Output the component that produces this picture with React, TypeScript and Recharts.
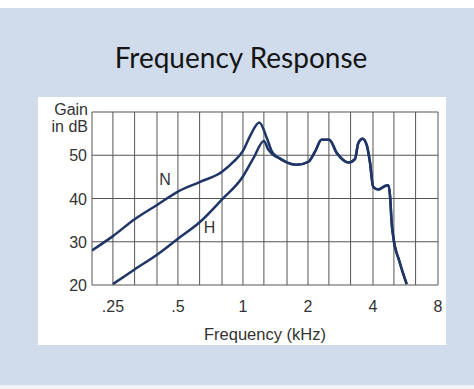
import { LineChart, Line, XAxis, YAxis, CartesianGrid, ReferenceDot } from "recharts";

// third-octave grid, labelled octaves
const freqGrid = [0.2, 0.25, 0.315, 0.4, 0.5, 0.63, 0.8, 1, 1.25, 1.6, 2, 2.5, 3.15, 4, 5, 6.3, 8];
const freqLabels: Record<string, string> = { "0.25": ".25", "0.5": ".5", "1": "1", "2": "2", "4": "4", "8": "8" };
const gainTicks = [20, 30, 40, 50, 60];

// N curve before it joins H
const nFreq = [0.2, 0.25, 0.315, 0.4, 0.5, 0.63, 0.8, 0.9, 1.0, 1.08, 1.19, 1.29, 1.36, 1.46];
const nGain = [28, 31.3, 35.2, 38.5, 41.6, 43.8, 46.2, 48.4, 51, 54.5, 57.6, 54, 50.9, 49.4];

// H curve before it joins N
const hFreq = [0.25, 0.315, 0.4, 0.5, 0.63, 0.8, 1.0, 1.12, 1.25, 1.31, 1.41, 1.49];
const hGain = [20.2, 23.6, 27, 30.7, 34.5, 39.8, 45.1, 49.4, 53.3, 51.3, 49.8, 49.2];

// common part after ~1.5 kHz
const tailFreq = [1.56, 1.78, 2.01, 2.16, 2.31, 2.51, 2.72, 2.91, 3.07, 3.3, 3.42, 3.58, 3.74, 3.87, 4.01, 4.23, 4.63, 4.72, 4.8, 4.88, 4.97, 5.3, 5.73];
const tailGain = [48.6, 47.8, 48.5, 50.9, 53.6, 53.6, 50.5, 48.9, 48.3, 49.1, 52.8, 53.8, 52.4, 48.5, 42.7, 42.1, 43, 43, 40.5, 34.5, 31, 25.5, 20.2];

const nData = [...nFreq, ...tailFreq].map((f, i) => ({ f, g: [...nGain, ...tailGain][i] }));
const hData = [...hFreq, ...tailFreq].map((f, i) => ({ f, g: [...hGain, ...tailGain][i] }));

const FONT = "'Liberation Sans', Arial, sans-serif";
const LINE = "#1f3566";

const XTick = (p: any) => {
  const lbl = freqLabels[String(p.payload.value)];
  if (!lbl) return null;
  return <text x={p.x} y={p.y + 19} textAnchor="middle" fontFamily={FONT} fontSize={16} fill="#333">{lbl}</text>;
};
const YTick = (p: any) => {
  if (p.payload.value === 60) return null;
  return <text x={p.x + 3} y={p.y + 6} textAnchor="end" fontFamily={FONT} fontSize={16} fill="#333">{p.payload.value}</text>;
};
const Tag = (txt: string) => (p: any) =>
  <text x={p.cx} y={p.cy + 6} textAnchor="middle" fontFamily={FONT} fontSize={16} fill="#333">{txt}</text>;

export default function App() {
  return (
    <div style={{ position: "relative", width: 474, height: 389, background: "#f3f3f5", overflow: "hidden" }}>
      <style>{`body{margin:0}`}</style>
      <div style={{ position: "absolute", left: 0, top: 0, width: 474, height: 8, background: "#fff" }} />
      <div style={{ position: "absolute", left: 0, top: 8, width: 474, height: 377, background: "#d0dcec" }} />
      <div style={{ position: "absolute", left: 0, top: 40, width: 474, textAlign: "center", paddingLeft: 8, boxSizing: "border-box", fontFamily: "Lato, sans-serif", fontSize: 28, color: "#141414" }}>Frequency Response</div>
      <div style={{ position: "absolute", left: 38, top: 97, width: 408, height: 248, background: "#fff" }} />
      <div style={{ position: "absolute", left: 38, top: 101, width: 50, textAlign: "right", fontFamily: FONT, fontSize: 16, lineHeight: "17px", color: "#333" }}>Gain<br />in dB</div>
      <div style={{ position: "absolute", left: 0, top: 0 }}>
        <LineChart width={474} height={389} margin={{ top: 112, right: 36, bottom: 74, left: 52 }}>
          <CartesianGrid stroke="#555" strokeWidth={1} horizontalValues={gainTicks} verticalValues={freqGrid} />
          <XAxis dataKey="f" type="number" scale="log" domain={[0.2, 8]} ticks={freqGrid} allowDataOverflow
            axisLine={false} tickLine={false} height={30} tick={<XTick />} interval={0}
            label={{ value: "Frequency (kHz)", position: "insideBottom", offset: -25, fontFamily: FONT, fontSize: 16.5, fill: "#333" }} />
          <YAxis dataKey="g" type="number" domain={[20, 60]} ticks={gainTicks} allowDataOverflow
            axisLine={false} tickLine={false} width={40} tick={<YTick />} interval={0} />
          <Line data={nData} dataKey="g" type="monotone" stroke={LINE} strokeWidth={2.5} dot={false} isAnimationActive={false} />
          <Line data={hData} dataKey="g" type="monotone" stroke={LINE} strokeWidth={2.5} dot={false} isAnimationActive={false} />
          <ReferenceDot x={0.436} y={44.5} r={0} shape={Tag("N")} />
          <ReferenceDot x={0.7} y={33.4} r={0} shape={Tag("H")} />
        </LineChart>
      </div>
    </div>
  );
}
